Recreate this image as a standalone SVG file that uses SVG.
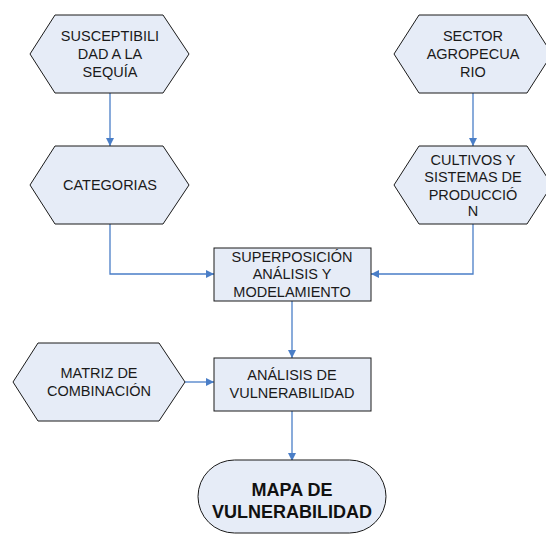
<svg xmlns="http://www.w3.org/2000/svg" width="546" height="534" viewBox="0 0 546 534">
<style>
.shape{fill:#E6ECF7;stroke:#1a1a1a;stroke-width:1}
.t{font-family:"Liberation Sans",Arial,sans-serif;font-size:14.5px;fill:#1a1a1a;text-anchor:middle}
.b{font-family:"Liberation Sans",Arial,sans-serif;font-size:18px;font-weight:bold;fill:#111;text-anchor:middle}
.c{fill:none;stroke:#4A7EC7;stroke-width:1.3}
</style>
<defs>
<marker id="ah" viewBox="0 0 10 10" refX="10" refY="5" markerWidth="8" markerHeight="8" markerUnits="userSpaceOnUse" orient="auto">
<path d="M0,0 L10,5 L0,10 Z" fill="#4A7EC7"/>
</marker>
</defs>
<rect width="546" height="534" fill="#fff"/>
<g id="connectors">
<path class="c" d="M110,93 V146" marker-end="url(#ah)"/>
<path class="c" d="M110,224 V274 H214" marker-end="url(#ah)"/>
<path class="c" d="M473,93 V146" marker-end="url(#ah)"/>
<path class="c" d="M473,224 V274 H371" marker-end="url(#ah)"/>
<path class="c" d="M292,301 V358" marker-end="url(#ah)"/>
<path class="c" d="M185,382 H214" marker-end="url(#ah)"/>
<path class="c" d="M292,411 V461" marker-end="url(#ah)"/>
</g>
<g id="susceptibilidad">
<polygon class="shape" points="30,54 55,15 163,15 189,54 163,93 55,93"/>
<text class="t" x="110" y="41">SUSCEPTIBILI</text>
<text class="t" x="110" y="59">DAD A LA</text>
<text class="t" x="110" y="77">SEQUÍA</text>
</g>
<g id="categorias">
<polygon class="shape" points="30,185 55,146 163,146 189,185 163,224 55,224"/>
<text class="t" x="110" y="190">CATEGORIAS</text>
</g>
<g id="sector">
<polygon class="shape" points="394,54 419,15 527,15 552,54 527,93 419,93"/>
<text class="t" x="473" y="41">SECTOR</text>
<text class="t" x="473" y="59">AGROPECUA</text>
<text class="t" x="473" y="77">RIO</text>
</g>
<g id="cultivos">
<polygon class="shape" points="394,185 419,146 527,146 552,185 527,224 419,224"/>
<text class="t" x="473" y="165">CULTIVOS Y</text>
<text class="t" x="473" y="182">SISTEMAS DE</text>
<text class="t" x="473" y="200">PRODUCCIÓ</text>
<text class="t" x="473" y="216">N</text>
</g>
<g id="superposicion">
<rect class="shape" x="214" y="248" width="157" height="53"/>
<text class="t" x="292" y="262">SUPERPOSICIÓN</text>
<text class="t" x="292" y="279">ANÁLISIS Y</text>
<text class="t" x="292" y="297">MODELAMIENTO</text>
</g>
<g id="matriz">
<polygon class="shape" points="13,382 38,343 159,343 185,382 159,421 38,421"/>
<text class="t" x="99" y="378">MATRIZ DE</text>
<text class="t" x="99" y="396">COMBINACIÓN</text>
</g>
<g id="analisis">
<rect class="shape" x="214" y="358" width="157" height="53"/>
<text class="t" x="292" y="380">ANÁLISIS DE</text>
<text class="t" x="292" y="398">VULNERABILIDAD</text>
</g>
<g id="mapa">
<rect class="shape" x="198" y="460" width="188" height="73" rx="36.5" ry="36.5"/>
<text class="b" x="292" y="496">MAPA DE</text>
<text class="b" x="292" y="518">VULNERABILIDAD</text>
</g>
</svg>
